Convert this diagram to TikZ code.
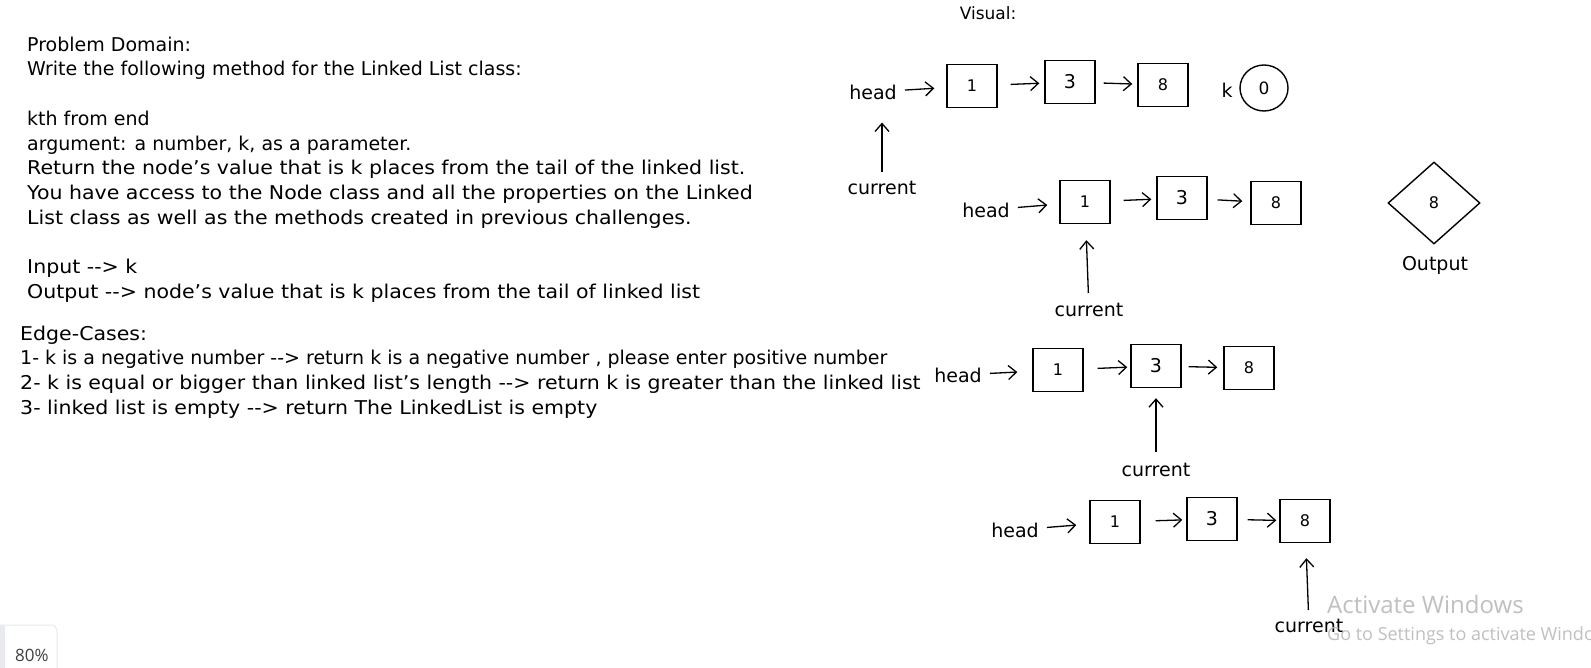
\documentclass[tikz,border=0pt]{standalone}
\usepackage{fontspec}
\setmainfont{DejaVu Sans}
\newfontfamily\winfont{Open Sans}
\usetikzlibrary{arrows.meta,shapes.geometric}

\definecolor{wingray}{RGB}{192,192,192}
\definecolor{panelgray}{RGB}{232,234,237}

% wider hand lettering for the long lines
\newcommand{\wideline}[1]{{\addfontfeature{FakeStretch=1.08}#1}}

\tikzset{
  listbox/.style={draw, line width=1.4pt, minimum width=50pt, minimum height=43pt, inner sep=0pt, font=\fontsize{16}{16}\selectfont},
  link/.style={-{Straight Barb[length=8pt,width=14pt]}, line width=1.3pt, shorten <=10pt, shorten >=5pt},
  headlink/.style={link, shorten <=8pt, shorten >=12pt},
  hand/.style={inner sep=0pt, font=\fontsize{19}{24.7}\selectfont},
  notes/.style={hand, align=left, anchor=north west},
}

\begin{document}
\begin{tikzpicture}[x=1pt,y=-1pt]

    \useasboundingbox (0,0) rectangle (1591,668);
    \fill[white] (0,0) rectangle (1591,668);

    %% Problem statement
    \node[notes] (statement) at (27,36.6) {Problem Domain:\\
        Write the following method for the Linked List class:\\[24.7pt]
        kth from end\\
        argument: a number, k, as a parameter.\\
        \wideline{Return the node's value that is k places from the tail of the linked list.}\\
        \wideline{You have access to the Node class and all the properties on the Linked}\\
        \wideline{List class as well as the methods created in previous challenges.}\\[24.7pt]
        \wideline{Input {-}{-}> k}\\
        \wideline{Output {-}{-}> node's value that is k places from the tail of linked list}};

    % Edge cases
    \node[notes] (edges) at (20,325.6) {\wideline{Edge-Cases:}\\
        1- k is a negative number {-}{-}> return k is a negative number , please enter positive number\\
        \wideline{2- k is equal or bigger than linked list's length {-}{-}> return k is greater than the linked list}\\
        \wideline{3- linked list is empty {-}{-}> return The LinkedList is empty}};

    %% Visual
    \node[hand, font=\fontsize{17}{17}\selectfont] (visual) at (988,13) {Visual:};

    % First pass, k = 0
    \node[hand] (head1) at (873,92) {head};
    \node[listbox] (n11) at (972,86) {1};
    \node[listbox, font=\fontsize{19}{19}\selectfont] (n12) at (1070,82) {3};
    \node[listbox] (n13) at (1163,85) {8};
    \node[hand] (kname) at (1227,90) {k};
    \node[draw, ellipse, line width=1.4pt, minimum width=48pt, minimum height=46pt, inner sep=0pt, font=\fontsize{17}{17}\selectfont] (kvalue) at (1264,88) {0};
    \node[hand] (cur1) at (882,188) {current};
    \draw[headlink] (head1) -- (n11);
    \draw[link, shorten <=13pt] (n11) -- (n12);
    \draw[link, shorten <=8pt] (n12) -- (n13);
    \draw[link, shorten <=9pt, shorten >=23pt] (cur1.north) -- (cur1.north |- head1.south);

    % Second pass
    \node[hand] (head2) at (986,210) {head};
    \node[listbox] (n21) at (1085,202) {1};
    \node[listbox, font=\fontsize{19}{19}\selectfont] (n22) at (1182,198) {3};
    \node[listbox] (n23) at (1276,203) {8};
    \node[hand] (cur2) at (1089,310) {current};
    \draw[headlink] (head2) -- (n21);
    \draw[link, shorten <=13pt] (n21) -- (n22);
    \draw[link, shorten >=8pt] (n22) -- (n23);
    \draw[link, shorten >=16pt] (cur2) -- (n21);

    % Result
    \node[draw, diamond, line width=1.4pt, minimum width=92pt, minimum height=82pt, inner sep=0pt, font=\fontsize{16}{16}\selectfont] (result) at (1434,203) {8};
    \node[hand] (output) at (1435,265) {Output};

    % Third pass
    \node[hand] (head3) at (958,375) {head};
    \node[listbox] (n31) at (1058,370) {1};
    \node[listbox, font=\fontsize{19}{19}\selectfont] (n32) at (1156,366) {3};
    \node[listbox] (n33) at (1249,368) {8};
    \node[hand] (cur3) at (1156,470) {current};
    \draw[headlink, shorten >=15pt] (head3) -- (n31);
    \draw[link, shorten <=14pt, shorten >=3pt] (n31) -- (n32);
    \draw[link, shorten <=7pt, shorten >=6pt] (n32) -- (n33);
    \draw[link, shorten <=11pt, shorten >=10pt] (cur3) -- (n32);

    % Last pass
    \node[hand] (head4) at (1015,530) {head};
    \node[listbox] (n41) at (1115,522) {1};
    \node[listbox, font=\fontsize{19}{19}\selectfont] (n42) at (1212,519) {3};
    \node[listbox] (n43) at (1305,521) {8};
    \node[hand] (cur4) at (1309,626) {current};
    \draw[headlink, shorten >=13pt] (head4) -- (n41);
    \draw[link, shorten <=15pt, shorten >=4pt] (n41) -- (n42);
    \draw[link, shorten >=3pt] (n42) -- (n43);
    \draw[link, shorten <=9pt, shorten >=15pt] (cur4) -- (n43);

    %% Screen overlays
    \node[inner sep=0pt, anchor=base west, text=wingray, font=\winfont\fontsize{24}{24}\selectfont] (activate) at (1327,613) {Activate Windows};
    \node[inner sep=0pt, anchor=base west, text=wingray, font=\winfont\fontsize{18}{18}\selectfont] (settings) at (1327,640) {Go to Settings to activate Windows};
    \draw[panelgray, line width=1pt, rounded corners=6pt] (0,625) -- (57,625) -- (57,672);
    \fill[panelgray] (0,625) rectangle (5,668);
    \node[inner sep=0pt, anchor=base west, text=black!75, font=\winfont\fontsize{17}{17}\selectfont] (zoomlevel) at (15,661) {80\%};

\end{tikzpicture}
\end{document}
